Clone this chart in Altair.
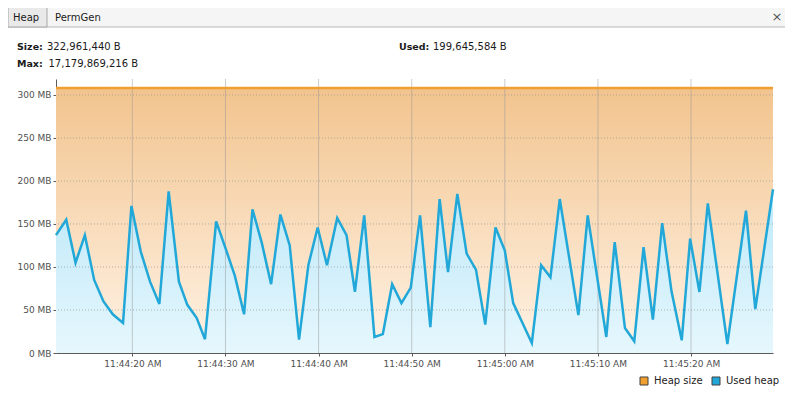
import altair as alt
import pandas as pd

# ---------------- data ----------------
# Used heap samples: time in seconds after 11:44:00, value in MB
used_time_s = [11.8, 12.9, 13.9, 14.9, 15.9, 16.9, 17.9, 19.0, 19.9, 20.9,
               21.9, 22.9, 23.9, 25.0, 25.9, 26.9, 27.8, 29.0, 30.0, 31.0,
               32.0, 32.9, 33.9, 34.9, 35.9, 36.9, 37.9, 38.9, 39.9, 40.9,
               42.0, 43.0, 43.9, 44.9, 46.0, 46.9, 47.9, 48.9, 49.9, 50.9,
               52.0, 53.0, 53.9, 54.9, 55.9, 56.9, 57.9, 59.0, 60.0, 60.9,
               62.9, 63.9, 64.9, 65.9, 67.9, 68.9, 70.9, 71.8, 72.9, 73.9,
               74.9, 75.9, 76.9, 77.9, 79.0, 79.9, 80.9, 81.8, 83.9, 85.9,
               86.9, 88.8]
used_mb = [137, 155, 105, 137, 85, 60, 45, 35, 171, 118,
           83, 57, 188, 83, 56, 41, 16, 153, 122, 90,
           45, 167, 128, 80, 161, 125, 15.5, 102, 146, 102,
           157, 137, 71, 160, 18.6, 22, 80, 58, 76, 160,
           30, 179, 94, 185, 115.5, 97, 33, 146, 119, 58,
           11.5, 102, 88, 179, 44, 160, 18.6, 129, 29, 13.6,
           123, 38.8, 151, 71.7, 14.7, 133, 71, 174, 10.5, 165.5,
           51, 190.4]

# Heap size (constant over the window)
heap_time_s = [11.8, 88.8]
heap_mb = [308, 308]

series_names = ["Heap size", "Used heap"]
series_colors = ["#f0a030", "#22a8d8"]

x_tick_s = [20, 30, 40, 50, 60, 70, 80]
x_tick_labels = ["11:44:20 AM", "11:44:30 AM", "11:44:40 AM", "11:44:50 AM",
                 "11:45:00 AM", "11:45:10 AM", "11:45:20 AM"]
y_tick_mb = [0, 50, 100, 150, 200, 250, 300]
y_tick_labels = ["0 MB", "50 MB", "100 MB", "150 MB", "200 MB", "250 MB", "300 MB"]
y_max_mb = 318.6

header_keys = ["Size:", "Max:", "Used:"]
header_values = ["322,961,440 B", "17,179,869,216 B", "199,645,584 B"]
tab_names = ["Heap", "PermGen"]

# ---------------- chart ----------------
FONT = "DejaVu Sans"
W, H = 717, 274

used_df = pd.DataFrame({"t": used_time_s, "mb": used_mb, "series": series_names[1]})
heap_df = pd.DataFrame({"t": heap_time_s, "mb": heap_mb, "series": series_names[0]})
one = pd.DataFrame({"a": [0]})


def label_expr(values, labels):
    return "".join(f"datum.value == {v} ? '{l}' : " for v, l in zip(values, labels)) + "''"


x_scale = alt.Scale(domain=[used_time_s[0], used_time_s[-1]], nice=False, zero=False)
y_scale = alt.Scale(domain=[0, y_max_mb], nice=False)

x_axis = alt.Axis(values=x_tick_s, labelExpr=label_expr(x_tick_s, x_tick_labels),
                  title=None, grid=False, tickSize=3, labelPadding=3,
                  domainColor="#5a5a5a", tickColor="#5a5a5a", labelColor="#505050",
                  labelFont=FONT, labelFontSize=9, labelFlush=False)
y_axis = alt.Axis(values=y_tick_mb, labelExpr=label_expr(y_tick_mb, y_tick_labels),
                  title=None, grid=False, tickSize=3, labelPadding=2,
                  domainColor="#5a5a5a", tickColor="#5a5a5a", labelColor="#505050",
                  labelFont=FONT, labelFontSize=9)

X = alt.X("t:Q", scale=x_scale, axis=x_axis)
Y = alt.Y("mb:Q", scale=y_scale, axis=y_axis)

heap_area = alt.Chart(heap_df).mark_area(
    color=alt.Gradient(gradient="linear", x1=0, x2=0, y1=0, y2=1,
                       stops=[alt.GradientStop(color="#f2c48e", offset=0),
                              alt.GradientStop(color="#fff3e6", offset=1)])
).encode(x=X, y=Y)

used_area = alt.Chart(used_df).mark_area(
    color=alt.Gradient(gradient="linear", x1=0, x2=0, y1=0, y2=1,
                       stops=[alt.GradientStop(color="#bde8f8", offset=0),
                              alt.GradientStop(color="#e6f7fd", offset=1)])
).encode(x=X, y=Y)

vgrid = alt.Chart(pd.DataFrame({"t": x_tick_s})).mark_rule(
    color="#9a9a9a", strokeWidth=1, opacity=0.5
).encode(x=X)

hgrid = alt.Chart(pd.DataFrame({"mb": y_tick_mb[1:]})).mark_rule(
    color="#8a8a8a", strokeWidth=1, opacity=0.6, strokeDash=[1, 2]
).encode(y=Y)

heap_line = alt.Chart(heap_df).mark_line(
    color=series_colors[0], strokeWidth=2.5
).encode(x=X, y=Y)

used_line = alt.Chart(used_df).mark_line(
    color=series_colors[1], strokeWidth=2.5, strokeJoin="miter"
).encode(x=X, y=Y)

legend_layer = alt.Chart(used_df).mark_square(
    opacity=1, filled=True, stroke="#404040", strokeWidth=1
).encode(
    color=alt.Color("series:N",
                    scale=alt.Scale(domain=series_names, range=series_colors),
                    legend=alt.Legend(orient="none", legendX=583, legendY=297,
                                      direction="horizontal", title=None,
                                      symbolType="square", symbolSize=64,
                                      symbolStrokeColor="#404040", symbolStrokeWidth=1,
                                      symbolOpacity=1,
                                      labelFont=FONT, labelFontSize=10,
                                      labelColor="#222222", labelOffset=5,
                                      columnPadding=7, padding=0))
).transform_filter("false")

# --- panel header: tab strip ---
strip = alt.Chart(one).mark_rect(fill="#f5f5f5", stroke="#b8b8b8", strokeWidth=1).encode(
    x=alt.value(-48), x2=alt.value(730.5), y=alt.value(-71.5), y2=alt.value(-52))
heap_tab = alt.Chart(one).mark_rect(fill="#e9e9e9", stroke="#a8a8a8", strokeWidth=1).encode(
    x=alt.value(-48), x2=alt.value(-9), y=alt.value(-71.5), y2=alt.value(-52))
tab_text0 = alt.Chart(one).mark_text(text=tab_names[0], align="left", baseline="alphabetic",
                                     font=FONT, fontSize=10, color="#1a1a1a").encode(
    x=alt.value(-43), y=alt.value(-58.5))
tab_text1 = alt.Chart(one).mark_text(text=tab_names[1], align="left", baseline="alphabetic",
                                     font=FONT, fontSize=10, color="#1a1a1a").encode(
    x=alt.value(-1), y=alt.value(-58.5))
close_x = alt.Chart(one).mark_text(text="×", align="center", baseline="middle",
                                   font=FONT, fontSize=13, color="#555555").encode(
    x=alt.value(721), y=alt.value(-62.5))

# --- header statistics ---
hdr_pos = [(-39, -29, -9), (-39, -12.5, -7.5), (343, -29, 377)]
hdr_layers = []
for (k, v, (xk, yk, xv)) in zip(header_keys, header_values, hdr_pos):
    hdr_layers.append(alt.Chart(one).mark_text(
        text=k, align="left", baseline="alphabetic", font=FONT, fontSize=9.5,
        fontWeight="bold", color="#1a1a1a").encode(x=alt.value(xk), y=alt.value(yk)))
    hdr_layers.append(alt.Chart(one).mark_text(
        text=v, align="left", baseline="alphabetic", font=FONT, fontSize=10,
        color="#1a1a1a").encode(x=alt.value(xv), y=alt.value(yk)))

chart = alt.layer(
    heap_area, used_area, vgrid, hgrid, heap_line, used_line, legend_layer,
    strip, heap_tab, tab_text0, tab_text1, close_x, *hdr_layers
).properties(
    width=W, height=H,
    autosize=alt.AutoSizeParams(type="none"),
    padding={"left": 48, "top": 71, "right": 12, "bottom": 34},
    background="#ffffff",
).configure_view(fill="#efefef", stroke="transparent")

chart.save("out.html", embed_options={"renderer": "svg", "actions": False})
